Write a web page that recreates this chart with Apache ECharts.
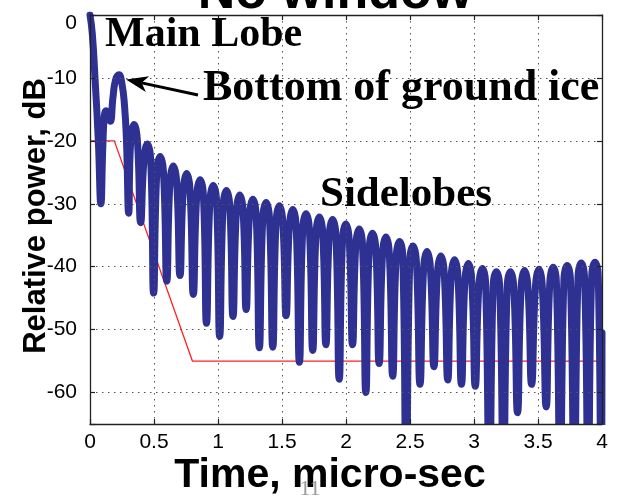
<!DOCTYPE html>
<html>
<head>
<meta charset="utf-8">
<script src="https://cdn.jsdelivr.net/npm/echarts@6/dist/echarts.min.js"></script>
<style>
html, body { margin: 0; padding: 0; background: #fff; }
#chart { width: 631px; height: 496px; }
</style>
</head>
<body>
<div id="chart"></div>
<script>
// Range profile without windowing: time (micro-sec) vs relative power (dB).
// Main lobe, the ice-bottom return and the first null.
const mainLobe = [
  [0, 0], [0.018, -3], [0.039, -10], [0.065, -20], [0.085, -30],
  [0.1, -21], [0.112, -16], [0.125, -15.2], [0.14, -16], [0.158, -16.9],
  [0.18, -13], [0.2, -10.3], [0.226, -9.5], [0.25, -11], [0.27, -14.5],
  [0.285, -20], [0.302, -31.5]
];

// Sidelobe train: each row is shoulder, peak, shoulder, following null.
const sidelobes = [
  [0.318, -19.9], [0.344, -17.4], [0.37, -19.9], [0.396, -33],
  [0.422, -23], [0.448, -20.5], [0.474, -23], [0.497, -44.2],
  [0.522, -25], [0.548, -22.5], [0.574, -25], [0.6, -42.3],
  [0.625, -26.5], [0.651, -24], [0.677, -26.5], [0.703, -41.4],
  [0.729, -27.7], [0.755, -25.2], [0.781, -27.7], [0.807, -44.4],
  [0.834, -28.7], [0.86, -26.2], [0.886, -28.7], [0.91, -49],
  [0.937, -29.6], [0.963, -27.1], [0.989, -29.6], [1.013, -51.1],
  [1.04, -30.4], [1.066, -27.9], [1.092, -30.4], [1.117, -47.9],
  [1.144, -31.1], [1.17, -28.6], [1.196, -31.1], [1.22, -46.8],
  [1.246, -31.8], [1.272, -29.3], [1.298, -31.8], [1.323, -52.9],
  [1.35, -32.3], [1.376, -29.8], [1.402, -32.3], [1.428, -52.8],
  [1.454, -32.8], [1.48, -30.3], [1.506, -32.8], [1.532, -47.8],
  [1.558, -33.4], [1.584, -30.9], [1.61, -33.4], [1.636, -55.2],
  [1.662, -34.1], [1.688, -31.6], [1.714, -34.1], [1.74, -53.3],
  [1.766, -34.6], [1.792, -32.1], [1.818, -34.6], [1.843, -52.4],
  [1.869, -35], [1.895, -32.5], [1.921, -35], [1.947, -57.9],
  [1.973, -35.7], [1.999, -33.2], [2.025, -35.7], [2.051, -52.4],
  [2.077, -36.5], [2.103, -34], [2.129, -36.5], [2.155, -60],
  [2.181, -37.2], [2.207, -34.7], [2.233, -37.2], [2.259, -55.4],
  [2.286, -37.8], [2.312, -35.3], [2.338, -37.8], [2.365, -57.4],
  [2.392, -38.5], [2.418, -36], [2.444, -38.5], [2.47, -78],
  [2.498, -39.2], [2.524, -36.7], [2.55, -39.2], [2.578, -58.7],
  [2.607, -40.1], [2.633, -37.6], [2.659, -40.1], [2.687, -55.9],
  [2.715, -40.8], [2.741, -38.3], [2.767, -40.8], [2.795, -58],
  [2.822, -41.4], [2.848, -38.9], [2.874, -41.4], [2.902, -58.7],
  [2.93, -42], [2.956, -39.5], [2.982, -42], [3.01, -59],
  [3.039, -42.8], [3.065, -40.3], [3.091, -42.8], [3.12, -80],
  [3.149, -43.3], [3.175, -40.8], [3.201, -43.3], [3.23, -76],
  [3.259, -43.3], [3.285, -40.8], [3.311, -43.3], [3.34, -63.2],
  [3.369, -43.1], [3.395, -40.6], [3.421, -43.1], [3.45, -58.7],
  [3.481, -42.9], [3.507, -40.4], [3.533, -42.9], [3.564, -62.3],
  [3.592, -42.6], [3.618, -40.1], [3.644, -42.6], [3.673, -77],
  [3.702, -42.3], [3.728, -39.8], [3.754, -42.3], [3.783, -79],
  [3.812, -41.9], [3.838, -39.4], [3.864, -41.9], [3.892, -76],
  [3.919, -41.8], [3.945, -39.3], [3.971, -41.8], [3.993, -80],
  [4.0, -50.5]
];

// Sidelobe mask (red)
const maskTime = [0, 0.19, 0.8, 4];
const maskDb = [-20, -20, -55, -55];

// Tick labels
const timeTicks = [0, 0.5, 1, 1.5, 2, 2.5, 3, 3.5, 4];
const powerTicks = [0, -10, -20, -30, -40, -50, -60];

const chart = echarts.init(document.getElementById('chart'), null, { renderer: 'canvas' });

const sans = '"Liberation Sans", Arial, sans-serif';
const serif = '"Liberation Serif", "Times New Roman", serif';
const gridDots = { show: true, lineStyle: { color: '#555', width: 1, type: [1.5, 4.5] } };
const frame = { show: true, onZero: false, lineStyle: { color: '#222', width: 1.3 } };
const innerTicks = { show: true, inside: true, length: 5, lineStyle: { color: '#222', width: 1.2 } };

const timeAxisBase = { type: 'value', min: 0, max: 4, interval: 0.5, z: 60 };
const powerAxisBase = { type: 'value', min: -65, max: 0, splitNumber: 7, z: 60 };

// Arrow pointing at the ice-bottom peak
const tip = [126, 79.5];
const tail = [198, 95];
const ux = (tip[0] - tail[0]), uy = (tip[1] - tail[1]);
const ul = Math.hypot(ux, uy);
const dx = ux / ul, dy = uy / ul;
const headLen = 22, headHalf = 8;
const base = [tip[0] - dx * headLen, tip[1] - dy * headLen];
const notch = [tip[0] - dx * 16, tip[1] - dy * 16];
const wingA = [base[0] - dy * headHalf, base[1] + dx * headHalf];
const wingB = [base[0] + dy * headHalf, base[1] - dx * headHalf];

chart.setOption({
  animation: false,
  backgroundColor: '#fff',
  grid: { left: 90, right: 29, top: 15, bottom: 72, containLabel: false },
  xAxis: [
    Object.assign({}, timeAxisBase, {
      position: 'bottom',
      axisLine: frame,
      axisTick: innerTicks,
      splitLine: gridDots,
      axisLabel: {
        margin: 8, color: '#000', fontFamily: sans, fontSize: 21,
        formatter: v => (timeTicks.includes(v) ? String(v) : '')
      }
    }),
    Object.assign({}, timeAxisBase, {
      position: 'top',
      axisLine: frame,
      axisTick: innerTicks,
      splitLine: { show: false },
      axisLabel: { show: false }
    })
  ],
  yAxis: [
    Object.assign({}, powerAxisBase, {
      position: 'left',
      axisLine: frame,
      axisTick: innerTicks,
      splitLine: gridDots,
      axisLabel: {
        margin: 13, color: '#000', fontFamily: sans, fontSize: 21,
        formatter: v => {
          if (!powerTicks.includes(v)) return '';
          // the top label sits a little below the frame
          return v === 0 ? '{top|0}' : String(v);
        },
        rich: { top: { fontFamily: sans, fontSize: 21, color: '#000', padding: [16, 0, 0, 0] } }
      }
    }),
    Object.assign({}, powerAxisBase, {
      position: 'right',
      axisLine: frame,
      axisTick: innerTicks,
      splitLine: { show: false },
      axisLabel: { show: false }
    })
  ],
  series: [
    {
      name: 'Mask',
      type: 'line',
      data: maskTime.map((t, i) => [t, maskDb[i]]),
      symbol: 'none',
      lineStyle: { color: '#ff1f1f', width: 1.3 },
      z: 2
    },
    {
      name: 'Relative power',
      type: 'line',
      data: mainLobe.concat(sidelobes),
      symbol: 'none',
      smooth: 0.5,
      lineStyle: { color: '#2e3192', width: 7, cap: 'round', join: 'round' },
      z: 3
    }
  ],
  graphic: [
    // keeps the thick trace from spilling under the bottom frame
    { type: 'rect', z: 50, shape: { x: 80, y: 425, width: 540, height: 6 }, style: { fill: '#fff' } },
    {
      type: 'text', z: 70, x: 335, y: -6,
      style: { text: 'No window', font: 'bold 52px ' + sans, fill: '#000', align: 'center', verticalAlign: 'middle' }
    },
    {
      type: 'text', z: 70, x: 105, y: 35,
      style: { text: 'Main Lobe', font: 'bold 42px ' + serif, fill: '#000', align: 'left', verticalAlign: 'middle' }
    },
    {
      type: 'text', z: 70, x: 203, y: 89,
      style: { text: 'Bottom of ground ice', font: 'bold 44px ' + serif, fill: '#000', align: 'left', verticalAlign: 'middle' }
    },
    {
      type: 'text', z: 70, x: 320, y: 195,
      style: { text: 'Sidelobes', font: 'bold 43px ' + serif, fill: '#000', align: 'left', verticalAlign: 'middle' }
    },
    {
      type: 'line', z: 70,
      shape: { x1: tail[0], y1: tail[1], x2: notch[0], y2: notch[1] },
      style: { stroke: '#000', lineWidth: 3 }
    },
    {
      type: 'polygon', z: 70,
      shape: { points: [tip, wingA, notch, wingB] },
      style: { fill: '#000' }
    },
    {
      type: 'text', z: 70, x: 36, y: 216, rotation: Math.PI / 2,
      style: { text: 'Relative power, dB', font: 'bold 31px ' + sans, fill: '#000', align: 'center', verticalAlign: 'middle' }
    },
    {
      type: 'text', z: 70, x: 330, y: 476,
      style: { text: 'Time, micro-sec', font: 'bold 41px ' + sans, fill: '#000', align: 'center', verticalAlign: 'middle' }
    },
    {
      type: 'text', z: 71, x: 310, y: 489,
      style: { text: '11', font: '22px ' + serif, fill: '#9a9a9a', align: 'center', verticalAlign: 'middle' }
    }
  ]
});
</script>
</body>
</html>
